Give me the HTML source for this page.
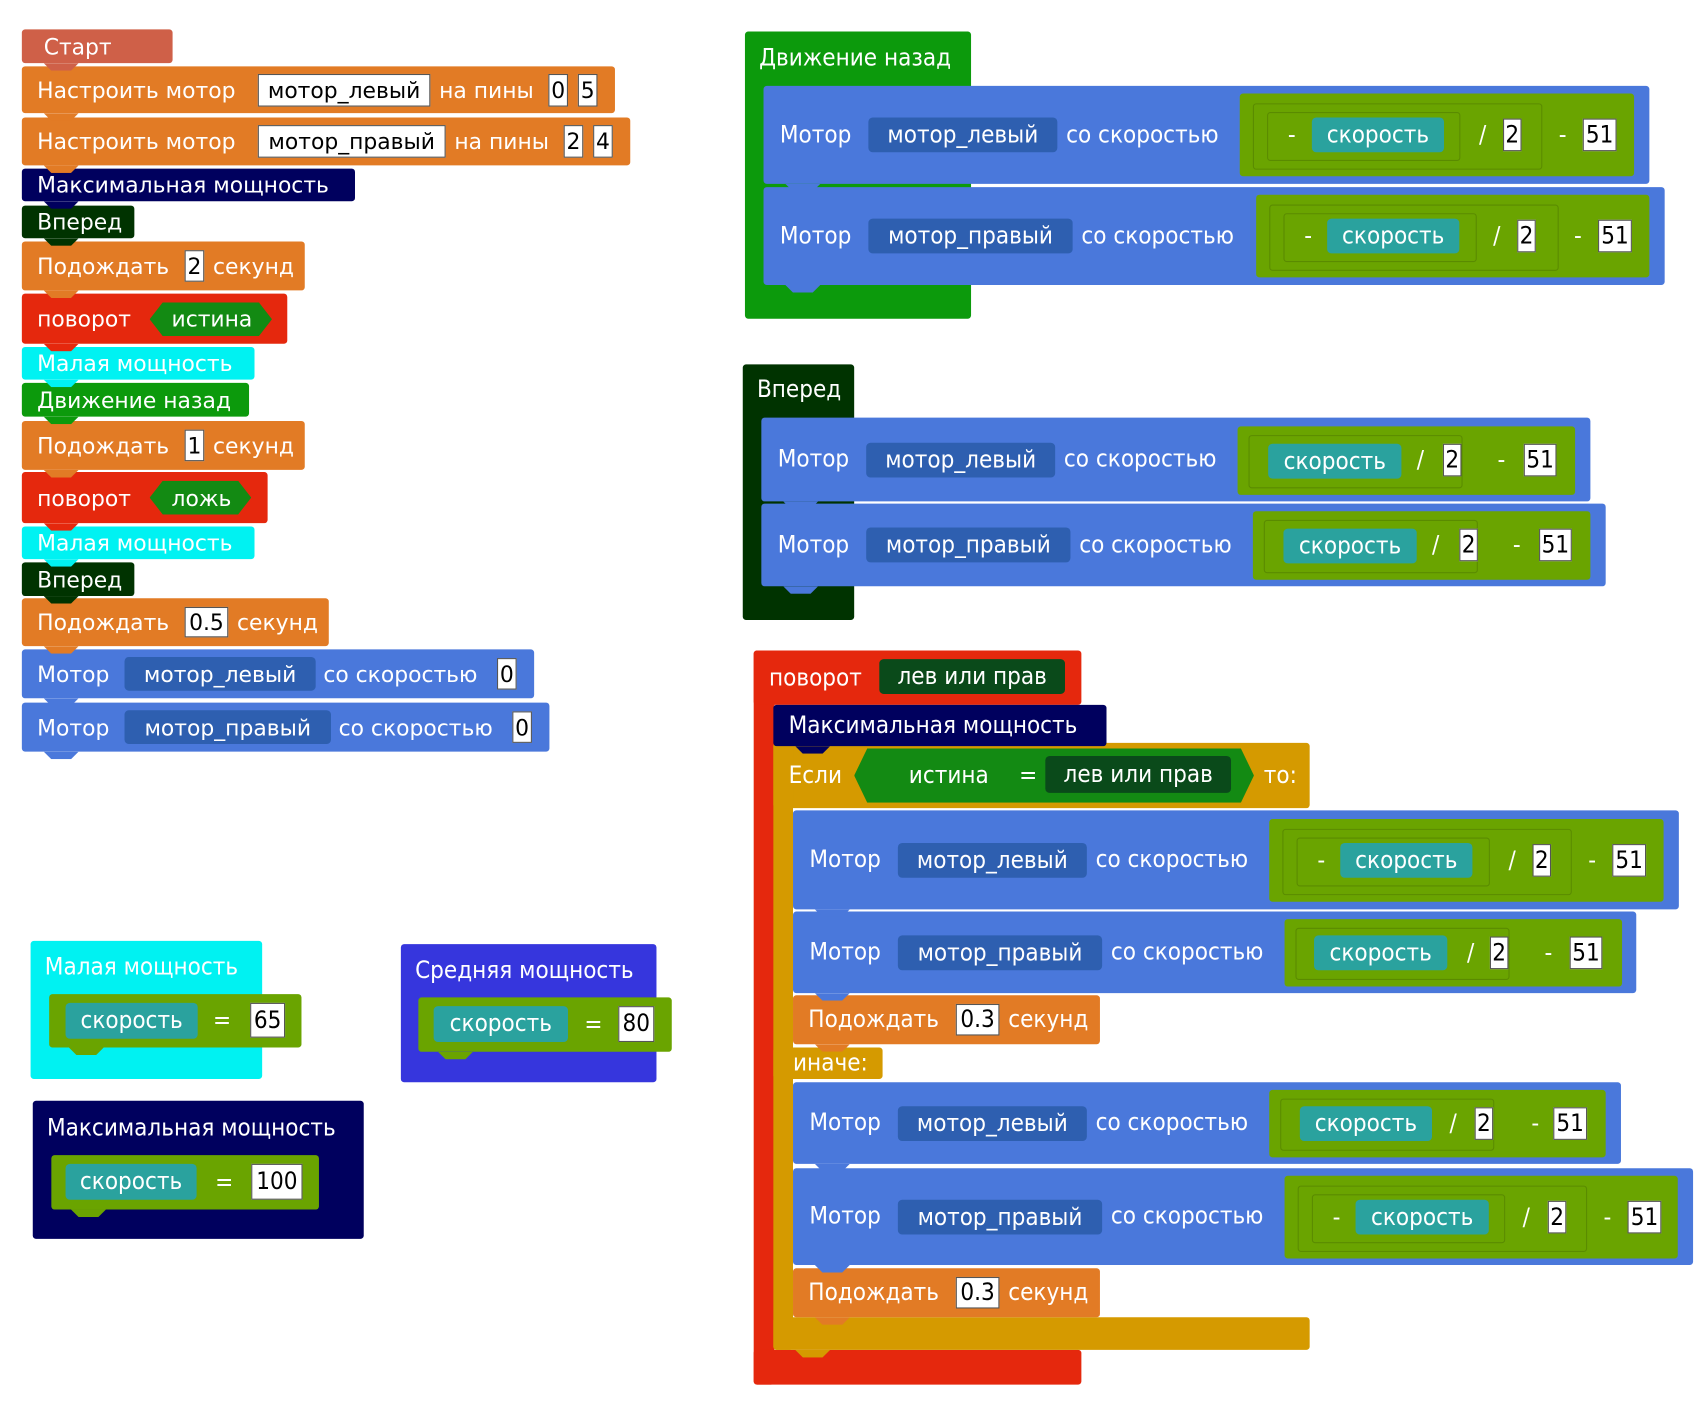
<!DOCTYPE html>
<html><head><meta charset="utf-8">
<style>
html,body{margin:0;padding:0;background:#fff;overflow:hidden}
#w{position:absolute;left:0;top:0;width:1560px;height:1300px;transform-origin:0 0;transform:scale(1.0923,1.0877)}
.b{position:absolute;border-radius:3px}
.t{position:absolute;top:0;bottom:0;display:flex;align-items:center;white-space:nowrap;color:#fff;font-family:"DejaVu Sans","Liberation Sans",sans-serif;font-size:20px}
.R .t,.R .in,.R .p{font-family:"DejaVu Sans Condensed","Liberation Sans Narrow","DejaVu Sans",sans-serif;font-size:22px}
.in{position:absolute;background:#fff;color:#000;border:1px solid #555;display:flex;align-items:center;justify-content:center;font-family:"DejaVu Sans",sans-serif;font-size:20px;box-sizing:border-box;white-space:nowrap}
.p{position:absolute;border-radius:4px;color:#fff;display:flex;align-items:center;justify-content:center;white-space:nowrap;font-family:"DejaVu Sans",sans-serif;font-size:20px}
.n{position:absolute;left:20px;bottom:-7px;width:32px;height:7px;clip-path:polygon(0 0,100% 0,78% 100%,22% 100%);z-index:2}
.g{position:absolute;background:#6aa400;border-radius:3px}
.gi{position:absolute;border:1px solid rgba(0,0,0,.15);border-radius:3px}
.hex{position:absolute;background:#138a13;clip-path:polygon(0 50%,12px 0,calc(100% - 12px) 0,100% 50%,calc(100% - 12px) 100%,12px 100%)}
</style></head><body><div id="w">

<!-- LEFT COLUMN -->
<div class="b" style="left:20px;top:27px;width:138px;height:31px;background:#cf6048"><span class="t" style="left:20px">Старт</span><div class="n" style="background:#cf6048"></div></div>
<div class="b" style="left:20px;top:61px;width:543px;height:43px;background:#e27b25"><span class="t" style="left:14px">Настроить мотор</span><div class="in" style="left:216px;top:7px;width:158px;height:30px">мотор_левый</div><span class="t" style="left:382px">на пины</span><div class="in" style="left:482px;top:7px;width:18px;height:30px">0</div><div class="in" style="left:509px;top:7px;width:18px;height:30px">5</div><div class="n" style="background:#e27b25"></div></div>
<div class="b" style="left:20px;top:108px;width:557px;height:44px;background:#e27b25"><span class="t" style="left:14px">Настроить мотор</span><div class="in" style="left:216px;top:7px;width:172px;height:30px">мотор_правый</div><span class="t" style="left:396px">на пины</span><div class="in" style="left:496px;top:7px;width:18px;height:30px">2</div><div class="in" style="left:523px;top:7px;width:18px;height:30px">4</div><div class="n" style="background:#e27b25"></div></div>
<div class="b" style="left:20px;top:155px;width:305px;height:30px;background:#00005e"><span class="t" style="left:14px">Максимальная мощность</span><div class="n" style="background:#00005e"></div></div>
<div class="b" style="left:20px;top:189px;width:103px;height:30px;background:#003300"><span class="t" style="left:14px">Вперед</span><div class="n" style="background:#003300"></div></div>
<div class="b" style="left:20px;top:222px;width:259px;height:45px;background:#e27b25"><span class="t" style="left:14px">Подождать</span><div class="in" style="left:149px;top:8px;width:18px;height:29px">2</div><span class="t" style="left:175px">секунд</span><div class="n" style="background:#e27b25"></div></div>
<div class="b" style="left:20px;top:270px;width:243px;height:46px;background:#e5280d"><span class="t" style="left:14px">поворот</span><div class="hex" style="left:117px;top:8px;width:112px;height:31px"></div><span class="t" style="left:137px">истина</span><div class="n" style="background:#e5280d"></div></div>
<div class="b" style="left:20px;top:319px;width:213px;height:30px;background:#00f2f2"><span class="t" style="left:14px">Малая мощность</span><div class="n" style="background:#00f2f2"></div></div>
<div class="b" style="left:20px;top:352px;width:208px;height:31px;background:#0c9a0c"><span class="t" style="left:14px">Движение назад</span><div class="n" style="background:#0c9a0c"></div></div>
<div class="b" style="left:20px;top:387px;width:259px;height:45px;background:#e27b25"><span class="t" style="left:14px">Подождать</span><div class="in" style="left:149px;top:8px;width:18px;height:29px">1</div><span class="t" style="left:175px">секунд</span><div class="n" style="background:#e27b25"></div></div>
<div class="b" style="left:20px;top:434px;width:225px;height:47px;background:#e5280d"><span class="t" style="left:14px">поворот</span><div class="hex" style="left:117px;top:8px;width:93px;height:31px"></div><span class="t" style="left:137px">ложь</span><div class="n" style="background:#e5280d"></div></div>
<div class="b" style="left:20px;top:484px;width:213px;height:30px;background:#00f2f2"><span class="t" style="left:14px">Малая мощность</span><div class="n" style="background:#00f2f2"></div></div>
<div class="b" style="left:20px;top:517px;width:103px;height:31px;background:#003300"><span class="t" style="left:14px">Вперед</span><div class="n" style="background:#003300"></div></div>
<div class="b" style="left:20px;top:550px;width:281px;height:44px;background:#e27b25"><span class="t" style="left:14px">Подождать</span><div class="in" style="left:149px;top:8px;width:40px;height:28px">0.5</div><span class="t" style="left:197px">секунд</span><div class="n" style="background:#e27b25"></div></div>
<div class="b" style="left:20px;top:597px;width:469px;height:45px;background:#4a78db"><span class="t" style="left:14px">Мотор</span><div class="p" style="left:94px;top:7px;width:175px;height:31px;background:#2e5fb0">мотор_левый</div><span class="t" style="left:276px">со скоростью</span><div class="in" style="left:435px;top:8px;width:18px;height:29px">0</div><div class="n" style="background:#4a78db"></div></div>
<div class="b" style="left:20px;top:646px;width:483px;height:45px;background:#4a78db"><span class="t" style="left:14px">Мотор</span><div class="p" style="left:94px;top:7px;width:189px;height:31px;background:#2e5fb0">мотор_правый</div><span class="t" style="left:290px">со скоростью</span><div class="in" style="left:449px;top:8px;width:18px;height:29px">0</div><div class="n" style="background:#4a78db"></div></div>

<!-- BOTTOM LEFT DEFS -->
<div class="R">
<div class="b" style="left:28px;top:865px;width:212px;height:127px;background:#00f2f2"><span class="t" style="left:13px;bottom:auto;height:48px">Малая мощность</span></div>
<div class="g" style="left:45px;top:914px;width:231px;height:49px"><div class="p" style="left:15px;top:8px;width:121px;height:33px;background:#2aa29e">скорость</div><span class="t" style="left:150px">=</span><div class="in" style="left:184px;top:8px;width:32px;height:32px">65</div><div class="n" style="background:#6aa400;left:18px"></div></div>
<div class="b" style="left:367px;top:868px;width:234px;height:127px;background:#3636dd"><span class="t" style="left:13px;bottom:auto;height:49px">Средняя мощность</span></div>
<div class="g" style="left:383px;top:917px;width:232px;height:50px"><div class="p" style="left:14px;top:8px;width:123px;height:33px;background:#2aa29e">скорость</div><span class="t" style="left:152px">=</span><div class="in" style="left:183px;top:8px;width:33px;height:33px">80</div><div class="n" style="background:#6aa400;left:18px"></div></div>
<div class="b" style="left:30px;top:1012px;width:303px;height:127px;background:#00005e"><span class="t" style="left:13px;bottom:auto;height:50px">Максимальная мощность</span></div>
<div class="g" style="left:47px;top:1062px;width:245px;height:50px"><div class="p" style="left:13px;top:8px;width:120px;height:33px;background:#2aa29e">скорость</div><span class="t" style="left:150px">=</span><div class="in" style="left:183px;top:8px;width:47px;height:33px">100</div><div class="n" style="background:#6aa400;left:18px"></div></div>

<!-- Движение назад -->
<div class="b" style="left:682px;top:29px;width:207px;height:264px;background:#0c9a0c"><span class="t" style="left:13px;bottom:auto;height:48px">Движение назад</span></div>
<div class="b" style="left:699px;top:79px;width:811px;height:90px;background:#4a78db"><span class="t" style="left:15px">Мотор</span><div class="p" style="left:96px;top:29px;width:173px;height:32px;background:#2e5fb0">мотор_левый</div><span class="t" style="left:277px">со скоростью</span>
<div class="g" style="left:436px;top:7px;width:361px;height:76px"><div class="gi" style="left:12px;top:9px;width:263px;height:59px"></div><div class="gi" style="left:25px;top:17px;width:175px;height:43px"></div><span class="t" style="left:44px">-</span><div class="p" style="left:66px;top:22px;width:121px;height:32px;background:#2aa29e">скорость</div><span class="t" style="left:219px">/</span><div class="in" style="left:241px;top:23px;width:17px;height:30px">2</div><span class="t" style="left:292px">-</span><div class="in" style="left:314px;top:23px;width:31px;height:30px">51</div></div><div class="n" style="background:#4a78db"></div></div>
<div class="b" style="left:699px;top:172px;width:825px;height:90px;background:#4a78db"><span class="t" style="left:15px">Мотор</span><div class="p" style="left:96px;top:29px;width:187px;height:32px;background:#2e5fb0">мотор_правый</div><span class="t" style="left:291px">со скоростью</span>
<div class="g" style="left:451px;top:7px;width:360px;height:76px"><div class="gi" style="left:12px;top:9px;width:263px;height:59px"></div><div class="gi" style="left:25px;top:17px;width:175px;height:43px"></div><span class="t" style="left:44px">-</span><div class="p" style="left:65px;top:22px;width:121px;height:32px;background:#2aa29e">скорость</div><span class="t" style="left:217px">/</span><div class="in" style="left:239px;top:23px;width:17px;height:30px">2</div><span class="t" style="left:291px">-</span><div class="in" style="left:313px;top:23px;width:31px;height:30px">51</div></div><div class="n" style="background:#4a78db"></div></div>

<!-- Вперед -->
<div class="b" style="left:680px;top:335px;width:102px;height:235px;background:#003300"><span class="t" style="left:13px;bottom:auto;height:47px">Вперед</span></div>
<div class="b" style="left:697px;top:384px;width:759px;height:77px;background:#4a78db"><span class="t" style="left:15px">Мотор</span><div class="p" style="left:96px;top:23px;width:173px;height:32px;background:#2e5fb0">мотор_левый</div><span class="t" style="left:277px">со скоростью</span>
<div class="g" style="left:436px;top:8px;width:309px;height:63px"><div class="gi" style="left:10px;top:8px;width:194px;height:47px"></div><span class="p" style="left:28px;top:16px;width:122px;height:32px;background:#2aa29e">скорость</span><span class="t" style="left:164px">/</span><div class="in" style="left:188px;top:16px;width:17px;height:30px">2</div><span class="t" style="left:238px">-</span><div class="in" style="left:262px;top:16px;width:30px;height:30px">51</div></div><div class="n" style="background:#4a78db"></div></div>
<div class="b" style="left:697px;top:463px;width:773px;height:76px;background:#4a78db"><span class="t" style="left:15px">Мотор</span><div class="p" style="left:96px;top:22px;width:187px;height:32px;background:#2e5fb0">мотор_правый</div><span class="t" style="left:291px">со скоростью</span>
<div class="g" style="left:450px;top:7px;width:309px;height:63px"><div class="gi" style="left:10px;top:8px;width:194px;height:47px"></div><span class="p" style="left:28px;top:16px;width:122px;height:32px;background:#2aa29e">скорость</span><span class="t" style="left:164px">/</span><div class="in" style="left:189px;top:16px;width:17px;height:30px">2</div><span class="t" style="left:238px">-</span><div class="in" style="left:262px;top:16px;width:30px;height:30px">51</div></div><div class="n" style="background:#4a78db"></div></div>

<!-- поворот -->
<div class="b" style="left:690px;top:598px;width:19px;height:675px;background:#e5280d"></div>
<div class="b" style="left:690px;top:1241px;width:300px;height:32px;background:#e5280d"></div>
<div class="b" style="left:690px;top:598px;width:300px;height:50px;background:#e5280d"><span class="t" style="left:14px">поворот</span><div class="p" style="left:115px;top:8px;width:170px;height:32px;background:#0a4a1a">лев или прав</div></div>
<div class="b" style="left:708px;top:648px;width:305px;height:38px;background:#00005e;z-index:3"><span class="t" style="left:14px">Максимальная мощность</span><div class="n" style="background:#00005e"></div></div>
<div class="b" style="left:708px;top:683px;width:491px;height:60px;background:#d59a00"></div>
<div class="b" style="left:708px;top:683px;width:18px;height:558px;background:#d59a00"></div>
<div class="b" style="left:708px;top:963px;width:100px;height:29px;background:#d59a00"><span class="t" style="left:18px">иначе:</span></div>
<div class="b" style="left:708px;top:1211px;width:491px;height:30px;background:#d59a00"><div class="n" style="background:#d59a00"></div></div>
<div class="b" style="left:708px;top:683px;width:491px;height:60px"><span class="t" style="left:14px">Если</span><div class="hex" style="left:74px;top:5px;width:366px;height:50px"></div><span class="t" style="left:124px">истина</span><span class="t" style="left:225px">=</span><div class="p" style="left:249px;top:12px;width:170px;height:34px;background:#0a4a1a">лев или прав</div><span class="t" style="left:449px">то:</span></div>

<div class="b" style="left:726px;top:745px;width:811px;height:91px;background:#4a78db"><span class="t" style="left:15px">Мотор</span><div class="p" style="left:96px;top:30px;width:173px;height:32px;background:#2e5fb0">мотор_левый</div><span class="t" style="left:277px">со скоростью</span>
<div class="g" style="left:436px;top:8px;width:361px;height:76px"><div class="gi" style="left:12px;top:9px;width:263px;height:59px"></div><div class="gi" style="left:25px;top:17px;width:175px;height:43px"></div><span class="t" style="left:44px">-</span><div class="p" style="left:65px;top:22px;width:121px;height:32px;background:#2aa29e">скорость</div><span class="t" style="left:219px">/</span><div class="in" style="left:241px;top:23px;width:17px;height:30px">2</div><span class="t" style="left:292px">-</span><div class="in" style="left:314px;top:23px;width:31px;height:30px">51</div></div><div class="n" style="background:#4a78db"></div></div>
<div class="b" style="left:726px;top:838px;width:772px;height:75px;background:#4a78db"><span class="t" style="left:15px">Мотор</span><div class="p" style="left:96px;top:22px;width:187px;height:32px;background:#2e5fb0">мотор_правый</div><span class="t" style="left:291px">со скоростью</span>
<div class="g" style="left:450px;top:7px;width:309px;height:62px"><div class="gi" style="left:10px;top:8px;width:194px;height:46px"></div><span class="p" style="left:27px;top:15px;width:122px;height:32px;background:#2aa29e">скорость</span><span class="t" style="left:167px">/</span><div class="in" style="left:188px;top:16px;width:17px;height:30px">2</div><span class="t" style="left:238px">-</span><div class="in" style="left:261px;top:16px;width:30px;height:30px">51</div></div><div class="n" style="background:#4a78db"></div></div>
<div class="b" style="left:726px;top:915px;width:281px;height:45px;background:#e27b25"><span class="t" style="left:14px">Подождать</span><div class="in" style="left:149px;top:8px;width:40px;height:29px">0.3</div><span class="t" style="left:197px">секунд</span><div class="n" style="background:#e27b25"></div></div>
<div class="b" style="left:726px;top:995px;width:758px;height:75px;background:#4a78db"><span class="t" style="left:15px">Мотор</span><div class="p" style="left:96px;top:22px;width:173px;height:32px;background:#2e5fb0">мотор_левый</div><span class="t" style="left:277px">со скоростью</span>
<div class="g" style="left:436px;top:7px;width:308px;height:62px"><div class="gi" style="left:10px;top:8px;width:194px;height:46px"></div><span class="p" style="left:28px;top:15px;width:121px;height:32px;background:#2aa29e">скорость</span><span class="t" style="left:165px">/</span><div class="in" style="left:188px;top:16px;width:17px;height:30px">2</div><span class="t" style="left:240px">-</span><div class="in" style="left:260px;top:16px;width:31px;height:30px">51</div></div><div class="n" style="background:#4a78db"></div></div>
<div class="b" style="left:726px;top:1074px;width:824px;height:89px;background:#4a78db"><span class="t" style="left:15px">Мотор</span><div class="p" style="left:96px;top:29px;width:187px;height:32px;background:#2e5fb0">мотор_правый</div><span class="t" style="left:291px">со скоростью</span>
<div class="g" style="left:450px;top:7px;width:360px;height:76px"><div class="gi" style="left:12px;top:9px;width:263px;height:59px"></div><div class="gi" style="left:25px;top:17px;width:175px;height:43px"></div><span class="t" style="left:44px">-</span><div class="p" style="left:65px;top:22px;width:122px;height:32px;background:#2aa29e">скорость</div><span class="t" style="left:218px">/</span><div class="in" style="left:241px;top:23px;width:17px;height:30px">2</div><span class="t" style="left:292px">-</span><div class="in" style="left:314px;top:23px;width:31px;height:30px">51</div></div><div class="n" style="background:#4a78db"></div></div>
<div class="b" style="left:726px;top:1166px;width:281px;height:45px;background:#e27b25"><span class="t" style="left:14px">Подождать</span><div class="in" style="left:149px;top:8px;width:40px;height:29px">0.3</div><span class="t" style="left:197px">секунд</span><div class="n" style="background:#e27b25"></div></div>
</div>

</div></body></html>
